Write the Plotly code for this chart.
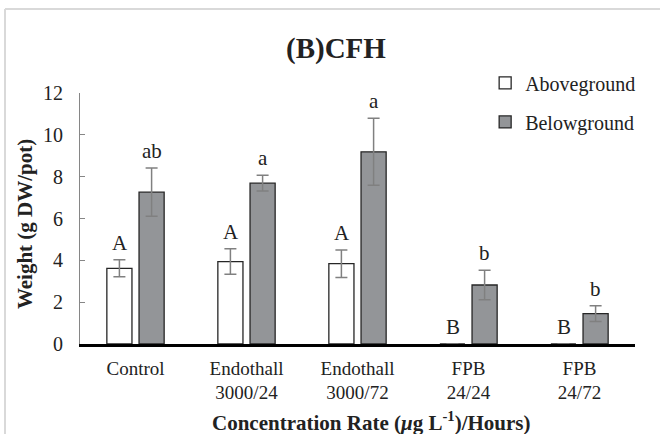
import plotly.graph_objects as go

# data
categories = ['Control', 'Endothall<br>3000/24', 'Endothall<br>3000/72', 'FPB<br>24/24', 'FPB<br>24/72']
above = [3.62, 3.94, 3.84, 0, 0]
above_err = [0.41, 0.61, 0.66, 0, 0]
below = [7.26, 7.69, 9.19, 2.82, 1.45]
below_err = [1.15, 0.38, 1.6, 0.7, 0.38]
above_letters = ['A', 'A', 'A', 'B', 'B']
below_letters = ['ab', 'a', 'a', 'b', 'b']

font = 'Liberation Serif'
edge = '#262626'
errc = '#808080'

fig = go.Figure()

fig.add_trace(go.Bar(
    x=categories, y=above, name='Aboveground', legendgroup='a',
    marker=dict(color='white', line=dict(color=edge, width=1.3)),
    error_y=dict(type='data', array=above_err, color=errc, thickness=1.5, width=6),
))
fig.add_trace(go.Bar(
    x=categories, y=below, name='Belowground', legendgroup='b',
    marker=dict(color='#939598', line=dict(color=edge, width=1.3)),
    error_y=dict(type='data', array=below_err, color=errc, thickness=1.5, width=6),
))

# significance letters above the error bars
for i, cat in enumerate(categories):
    fig.add_annotation(x=cat, y=above[i] + above_err[i], text=above_letters[i],
                       xref='x', yref='y', showarrow=False, xshift=-16, yshift=17,
                       yanchor='middle', font=dict(family=font, size=21, color='#222'))
    fig.add_annotation(x=cat, y=below[i] + below_err[i], text=below_letters[i],
                       xref='x', yref='y', showarrow=False, xshift=16, yshift=17,
                       yanchor='middle', font=dict(family=font, size=21, color='#222'))

# axis titles
fig.add_annotation(text='<b>Concentration Rate (<i>μ</i>g L<sup>-1</sup>)/Hours)</b>',
                   xref='paper', yref='paper', x=0.526, y=-0.31, yanchor='middle',
                   showarrow=False, font=dict(family=font, size=21, color='#222'))
fig.add_annotation(text='<b>Weight (g DW/pot)</b>', textangle=-90,
                   xref='paper', yref='paper', x=-0.099, y=0.478, xanchor='center',
                   showarrow=False, font=dict(family=font, size=21, color='#222'))

# light chart-area border (left and top edges)
fig.add_shape(type='line', xref='paper', yref='paper', x0=-0.1351, x1=-0.1351, y0=-0.36, y1=1.3347,
              line=dict(color='#d9d9d9', width=2))
fig.add_shape(type='line', xref='paper', yref='paper', x0=-0.1351, x1=1.05, y0=1.3347, y1=1.3347,
              line=dict(color='#d9d9d9', width=2))

fig.update_layout(
    width=660, height=434,
    margin=dict(l=80, r=25, t=93, b=90),
    plot_bgcolor='white', paper_bgcolor='white',
    barmode='group', bargap=0.42, bargroupgap=0.22,
    font=dict(family=font, size=19, color='#222'),
    title=dict(text='<b>(B)CFH</b>', x=0.509, xanchor='center', y=0.889, yanchor='middle',
               font=dict(family=font, size=29, color='#222')),
    legend=dict(x=0.73, y=1.118, xanchor='left', yanchor='top', traceorder='grouped',
                tracegroupgap=10, font=dict(family=font, size=20, color='#222'),
                bgcolor='rgba(0,0,0,0)'),
    xaxis=dict(showline=True, linecolor='black', linewidth=2.5, ticks='', showgrid=False,
               ticklabelstandoff=5, tickfont=dict(family=font, size=19, color='#222')),
    yaxis=dict(range=[0, 12], tickvals=[0, 2, 4, 6, 8, 10, 12], showline=True, linecolor='#868686',
               linewidth=1, ticks='inside', ticklen=5, tickcolor='#868686', showgrid=False,
               zeroline=False, ticklabelstandoff=12, tickfont=dict(family=font, size=20, color='#222')),
)

# drop the browser's default body margin so the figure sits at the page corner
fig.write_html('out.html', config={'displayModeBar': False},
               post_script="document.body.style.margin='0';")
